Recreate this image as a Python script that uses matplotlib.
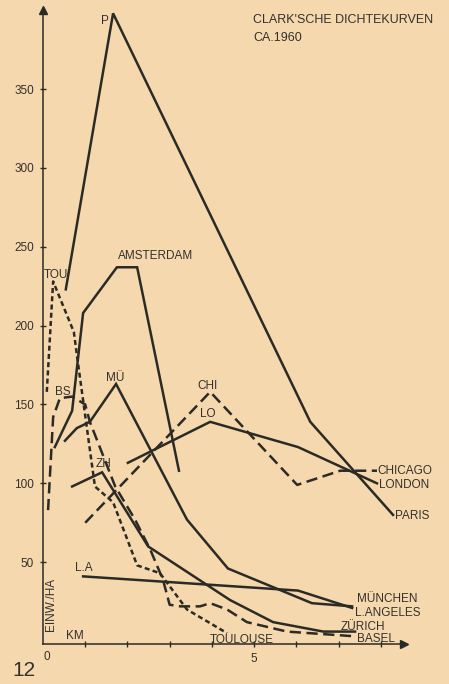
import matplotlib
matplotlib.use("Agg")
import matplotlib.pyplot as plt

# ---- data (km from centre, inhabitants per ha) ----
paris_x = [0.54, 1.66, 6.33, 8.29]
paris_y = [223, 398, 139, 80]

ams_x = [0.28, 0.69, 0.95, 1.75, 2.23, 3.22]
ams_y = [123, 146, 208, 237, 237, 108]

tou_x = [0.09, 0.24, 0.73, 0.83, 1.23, 1.66, 2.23, 2.77, 3.41, 4.36]
tou_y = [158, 228, 196, 176, 98, 88, 48, 43, 20, 5]

bs_x = [0.12, 0.24, 0.40, 0.69, 1.00, 1.11, 1.71, 2.18, 2.54, 2.84, 3.00, 3.25, 3.72, 3.96, 4.36, 4.83, 5.78, 7.39]
bs_y = [83, 142, 154, 155, 150, 139, 98, 77, 58, 39, 23, 22, 22, 24, 20, 12, 6, 3]

mu_x = [0.52, 0.80, 1.11, 1.73, 3.41, 4.38, 6.37, 7.32]
mu_y = [127, 135, 139, 163, 77, 46, 24, 22]

zh_x = [0.69, 1.40, 2.49, 4.43, 5.45, 6.64, 7.39]
zh_y = [98, 107, 60, 26, 12, 6, 6]

la_x = [0.95, 6.04, 7.32]
la_y = [41, 32, 21]

chi_x = [1.00, 3.96, 6.02, 7.04, 7.91]
chi_y = [75, 158, 99, 108, 108]

lo_x = [2.01, 3.96, 6.04, 7.91]
lo_y = [113, 139, 123, 100]

yticks = [50, 100, 150, 200, 250, 300, 350]
xticks = [1, 2, 3, 4, 5, 6, 7, 8]
xtick_labels = ["", "", "", "", "5", "", "", ""]

BG = "#f6d8ae"
INK = "#2b2b26"
TXT = "#33312c"

plt.rcParams['font.family'] = ['Liberation Sans', 'DejaVu Sans']

fig = plt.figure(figsize=(4.49, 6.84), dpi=100, facecolor=BG)
ax = fig.add_axes([43/449, (684-644.2)/684, 361/449, 634/684])
ax.set_facecolor(BG)
ax.set_xlim(0, 8.55)
ax.set_ylim(-2, 400)

lw = 1.8
solid = dict(color=INK, lw=lw, solid_joinstyle='miter')
ax.plot(paris_x, paris_y, **solid)
ax.plot(ams_x, ams_y, **solid)
ax.plot(mu_x, mu_y, **solid)
ax.plot(zh_x, zh_y, **solid)
ax.plot(la_x, la_y, **solid)
ax.plot(lo_x, lo_y, **solid)
ax.plot(tou_x, tou_y, color=INK, lw=lw, linestyle=(0, (2.0, 1.3)))
ax.plot(bs_x, bs_y, color=INK, lw=lw, linestyle=(0, (4.5, 2.2)))
ax.plot(chi_x, chi_y, color=INK, lw=lw, linestyle=(0, (4.5, 2.2)))

# spines
for s in ['top', 'right']:
    ax.spines[s].set_visible(False)
for s in ['left', 'bottom']:
    ax.spines[s].set_color(INK)
    ax.spines[s].set_linewidth(1.1)
ax.plot(0, 1, marker='^', color=INK, markersize=6, transform=ax.transAxes, clip_on=False)
ax.plot(1, 0, marker='>', color=INK, markersize=6, transform=ax.transAxes, clip_on=False)

ax.set_yticks(yticks)
ax.set_yticklabels([str(v) for v in yticks])
ax.set_xticks(xticks)
ax.set_xticklabels(xtick_labels)
ax.tick_params(axis='both', direction='inout', length=5, width=1, color=INK,
               labelcolor=TXT, labelsize=8.5)
ax.tick_params(axis='y', pad=4)
ax.tick_params(axis='x', pad=4)

fs = 8.5
def lab(x, y, s, ha='left', va='center', **kw):
    ax.text(x, y, s, ha=ha, va=va, fontsize=fs, color=TXT, clip_on=False, **kw)

# inline labels
lab(paris_x[1] - 0.1, paris_y[1] - 5, "P", ha='right')
lab(1.78, 244, "AMSTERDAM")
lab(0.03, 232, "TOU")
lab(0.28, 158, "BS")
lab(1.5, 167, "MÜ")
lab(3.65, 162, "CHI")
lab(3.72, 144, "LO")
lab(1.25, 112, "ZH")
lab(0.75, 46, "L.A")
lab(0.55, 3, "KM")
lab(0.2, 23, "EINW./HA", rotation=90, ha='center')

# end labels
lab(chi_x[-1] + 0.02, chi_y[-1], "CHICAGO")
lab(lo_x[-1] + 0.05, lo_y[-1] - 1, "LONDON")
lab(paris_x[-1] + 0.05, paris_y[-1] - 1, "PARIS")
lab(7.44, 26.5, "MÜNCHEN")
lab(7.39, 17.5, "L.ANGELES")
lab(7.04, 9, "ZÜRICH")
lab(7.44, 1.0, "BASEL")
lab(3.96, 0.5, "TOULOUSE")

ax.text(0.1, -10, "0", ha='center', va='center', fontsize=8.5, color=TXT, clip_on=False)

fig.text(253/449, 1 - 20/684, "CLARK'SCHE DICHTEKURVEN", ha='left', va='center',
         fontsize=9, color=TXT)
fig.text(253/449, 1 - 38/684, "CA.1960", ha='left', va='center', fontsize=9, color=TXT)
fig.text(24/449, 1 - 670/684, "12", ha='center', va='center', fontsize=15, color=TXT)

fig.savefig("out.png", dpi=100, facecolor=BG)
